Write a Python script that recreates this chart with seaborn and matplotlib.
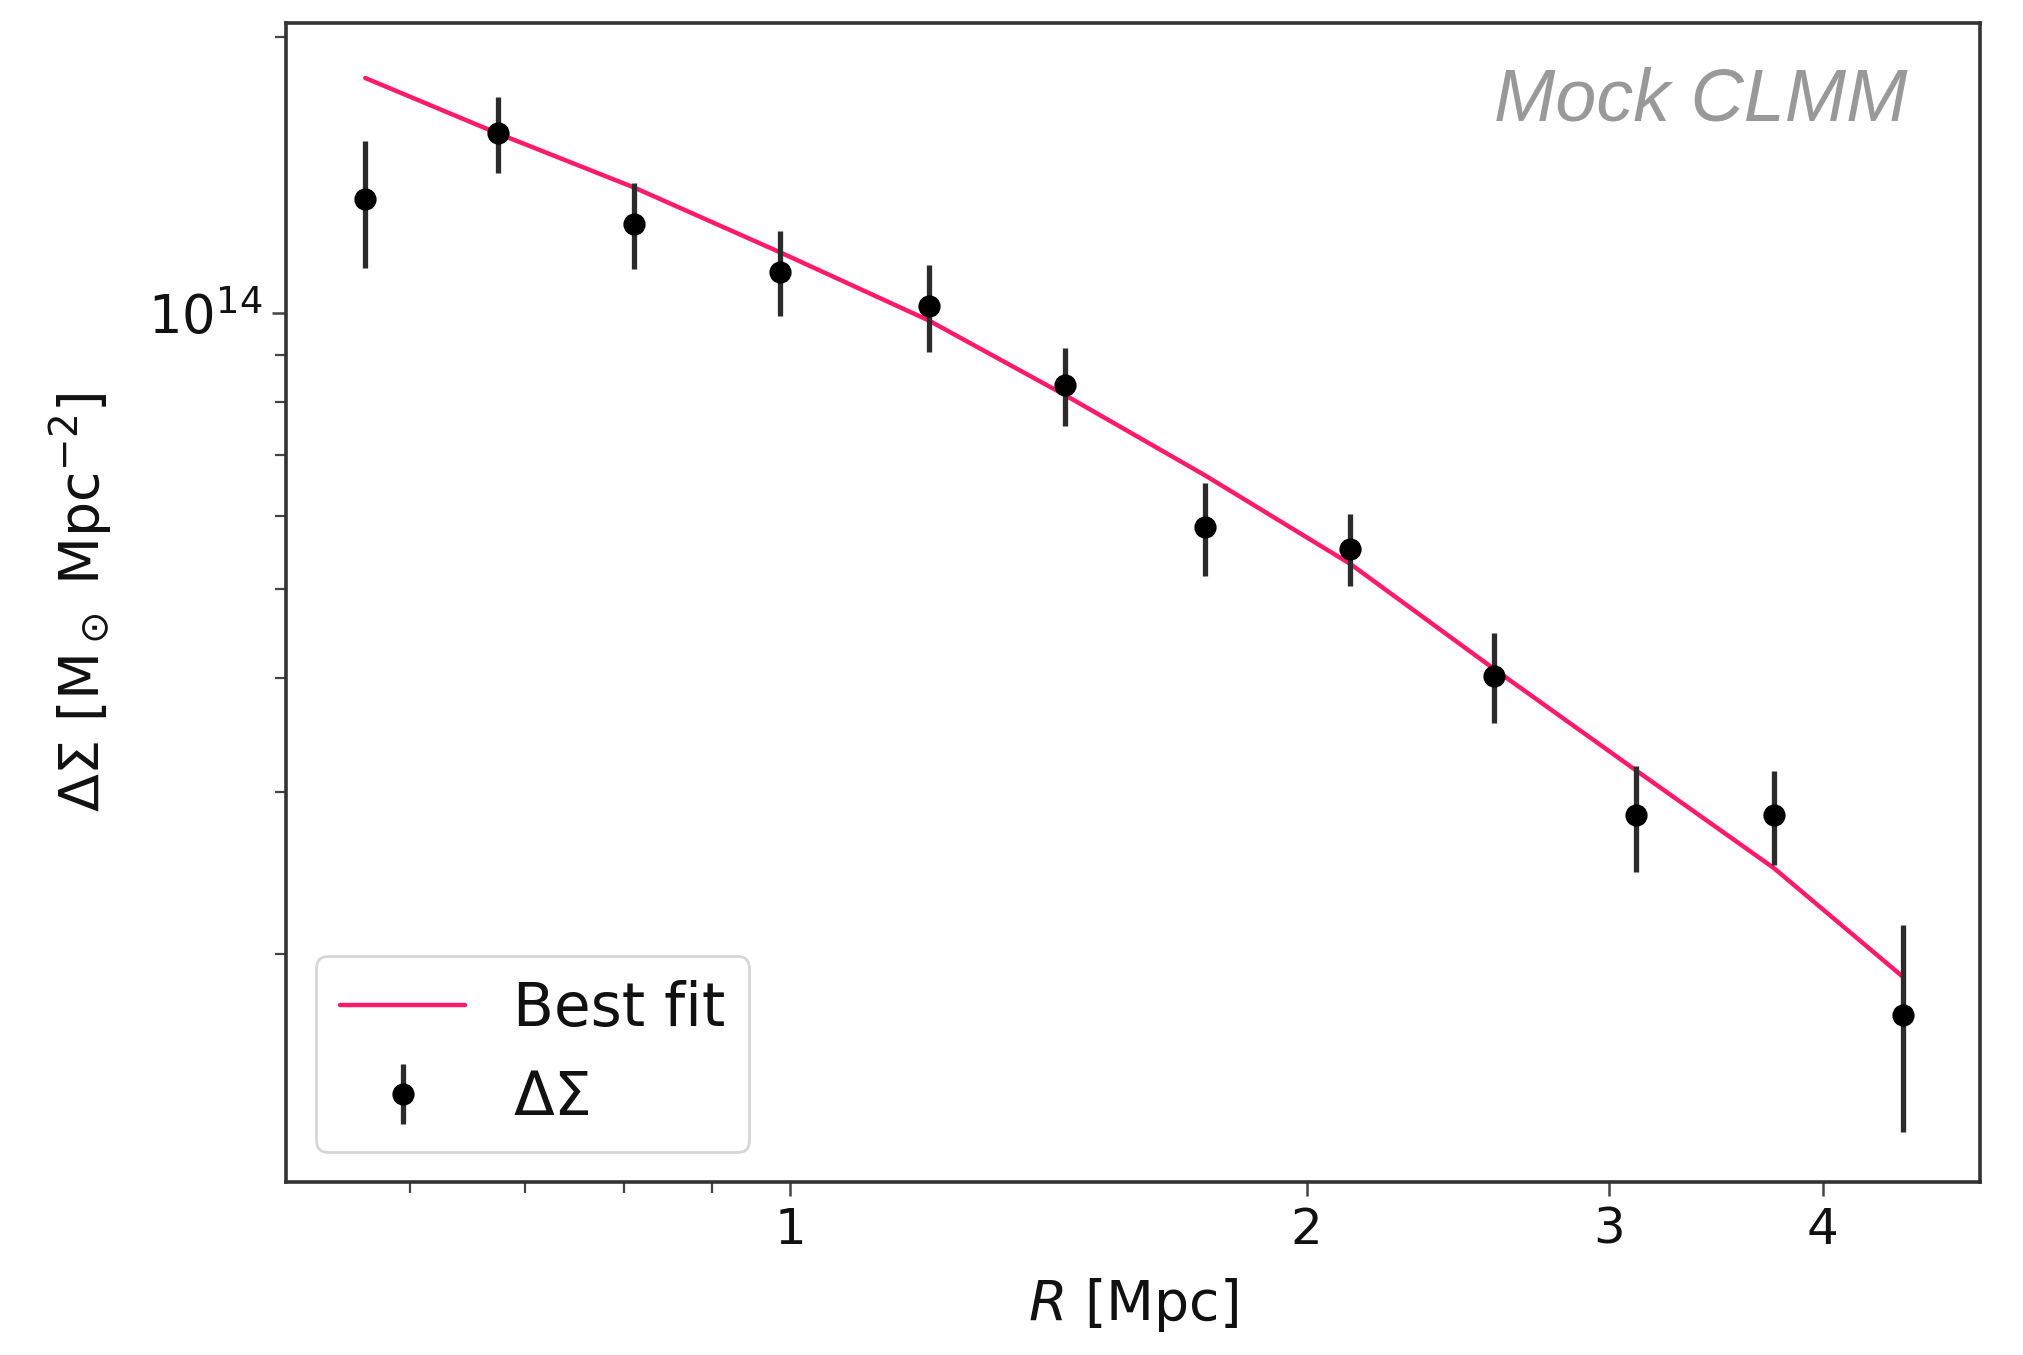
import numpy as np
import pandas as pd
import matplotlib
matplotlib.use("Agg")
import matplotlib.pyplot as plt
import seaborn as sns
from matplotlib.ticker import ScalarFormatter, NullFormatter

# radial bins [Mpc]
radius = [0.565, 0.675, 0.811, 0.986, 1.204, 1.446, 1.744, 2.121, 2.571, 3.111, 3.744, 4.453]
# measured excess surface density and its error
delta_sigma = [1.33e14, 1.569e14, 1.25e14, 1.109e14, 1.016e14, 8.34e13,
               5.84e13, 5.53e13, 4.02e13, 2.83e13, 2.83e13, 1.712e13]
delta_sigma_err = [2.1e13, 1.5e13, 1.35e13, 1.18e13, 1.1e13, 8.2e12,
                   6.8e12, 5.0e12, 4.5e12, 3.75e12, 3.3e12, 4.35e12]
# best fit model at the same radii
best_fit = [1.803e14, 1.569e14, 1.369e14, 1.164e14, 0.9808e14, 8.13e13,
            6.65e13, 5.32e13, 4.09e13, 3.17e13, 2.48e13, 1.887e13]

x_ticks = [1, 2, 3, 4]

df = pd.DataFrame({'R': radius, 'fit': best_fit})

sns.set_style("ticks")
plt.rcParams['font.family'] = ['DejaVu Sans']
plt.rcParams['text.color'] = '#111111'
plt.rcParams['axes.labelcolor'] = '#111111'
plt.rcParams['xtick.labelcolor'] = '#111111'
plt.rcParams['ytick.labelcolor'] = '#111111'

fig = plt.figure(figsize=(10.115, 6.775), dpi=200)
ax = fig.add_axes([0.1414, 0.1277, 0.8374, 0.8553])

sns.lineplot(data=df, x='R', y='fit', color='#ff1a6c', linewidth=1.6, label='Best fit', ax=ax)
ax.errorbar(radius, delta_sigma, yerr=delta_sigma_err, fmt='o', color='black',
            ecolor='#2b2b2b', elinewidth=1.9, markersize=7, label=r'$\Delta\Sigma$')

ax.set_xscale('log')
ax.set_yscale('log')
ax.set_xlim(0.508, 4.94)
ax.set_ylim(1.127e13, 2.07e14)

ax.set_xticks(x_ticks)
ax.xaxis.set_major_formatter(ScalarFormatter())
ax.xaxis.set_minor_formatter(NullFormatter())

ax.tick_params(axis='x', which='major', labelsize=18, length=5, width=0.9, color='#444444')
ax.tick_params(axis='y', which='major', labelsize=19, length=5, width=0.9, color='#444444')
ax.tick_params(axis='both', which='minor', length=4, width=0.8, color='#444444')
for s in ax.spines.values():
    s.set_color('#333333')
    s.set_linewidth(1.3)

ax.set_xlabel(r'$R$ [Mpc]', fontsize=20, labelpad=8)
ax.set_ylabel(r'$\Delta\Sigma$ [M$_\odot$ Mpc$^{-2}$]', fontsize=20, labelpad=12)

ax.text(0.957, 0.933, 'Mock CLMM', transform=ax.transAxes, ha='right', va='center',
        fontsize=26.5, style='italic', color='#999999', family=['Liberation Sans', 'DejaVu Sans'])

leg = ax.legend(loc='lower left', fontsize=21.5, frameon=True, fancybox=True,
                handlelength=2.1, borderaxespad=0.5)
leg.get_frame().set_edgecolor('#cccccc')

fig.savefig('out.png', dpi=200)
